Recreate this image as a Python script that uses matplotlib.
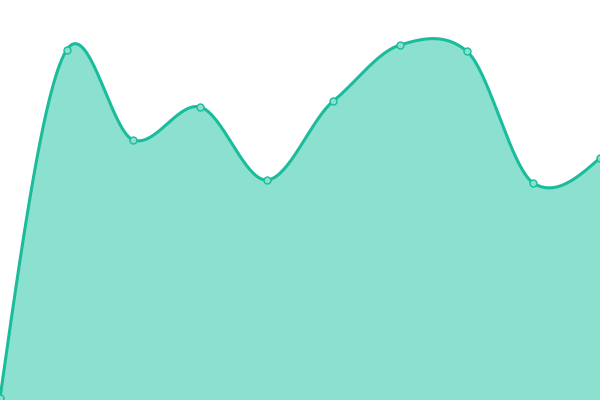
import numpy as np
import matplotlib
matplotlib.use("Agg")
import matplotlib.pyplot as plt

# values (0 at bottom, 400 at top)
values = [2, 350, 260, 293, 220, 299, 355, 349, 217, 242]
positions = list(range(len(values)))

line_color = "#1abc9c"
fill_color = "#8be0cf"


def smooth_curve(x, y, tension=0.8, steps=40):
    x = np.asarray(x, float)
    y = np.asarray(y, float)
    n = len(x)
    mx = np.ones(n)
    my = np.zeros(n)
    for i in range(1, n - 1):
        my[i] = tension * (y[i + 1] - y[i - 1]) / 2
    # natural-ish end tangents
    my[0] = (3 * (y[1] - y[0]) - my[1]) / 2
    my[-1] = (3 * (y[-1] - y[-2]) - my[-2]) / 2
    t = np.linspace(0, 1, steps)
    h00 = 2 * t**3 - 3 * t**2 + 1
    h10 = t**3 - 2 * t**2 + t
    h01 = -2 * t**3 + 3 * t**2
    h11 = t**3 - t**2
    xs, ys = [], []
    for i in range(n - 1):
        xs.append(x[i] + t * (x[i + 1] - x[i]))
        ys.append(h00 * y[i] + h10 * my[i] + h01 * y[i + 1] + h11 * my[i + 1])
    return np.concatenate(xs), np.concatenate(ys)


sx, sy = smooth_curve(positions, values)

fig = plt.figure(figsize=(6, 4), dpi=100)
ax = fig.add_axes([0, 0, 1, 1])
ax.fill_between(sx, 0, sy, color=fill_color, linewidth=0)
ax.plot(sx, sy, color=line_color, linewidth=2.2, solid_capstyle="round")
ax.plot(positions, values, "o", markersize=5, markerfacecolor=fill_color,
        markeredgecolor=line_color, markeredgewidth=1)
ax.set_xlim(0, len(values) - 1)
ax.set_ylim(0, 400)
ax.axis("off")

fig.savefig("out.png", dpi=100)
